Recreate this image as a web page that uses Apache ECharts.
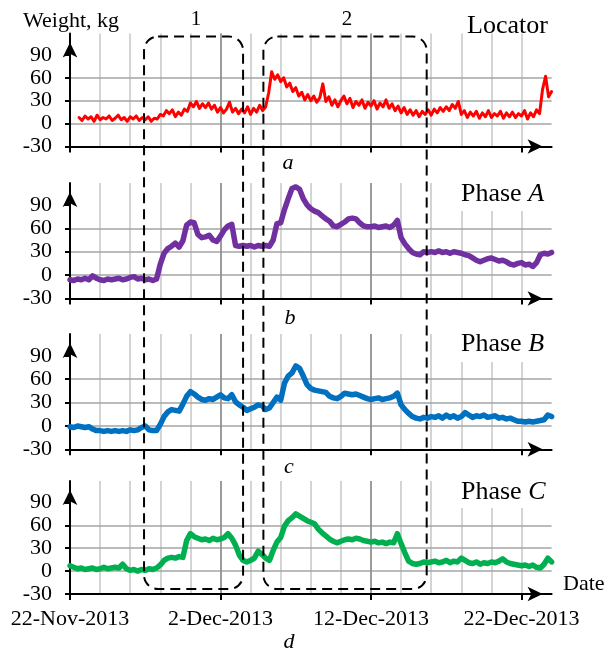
<!DOCTYPE html>
<html>
<head>
<meta charset="utf-8">
<script src="https://cdn.jsdelivr.net/npm/echarts@6/dist/echarts.min.js"></script>
<style>
html, body { margin: 0; padding: 0; background: #fff; }
#chart { width: 606px; height: 652px; }
</style>
</head>
<body>
<div id="chart"></div>
<script>
// days counted from 22-Nov-2013
var dayTicks = [0, 10, 20, 30];
var dateLabels = ['22-Nov-2013', '2-Dec-2013', '12-Dec-2013', '22-Dec-2013'];
var weightTicks = [-30, 0, 30, 60, 90];

// locator, one reading every 0.2 day from day 0.6
var locatorStart = 0.6, locatorStep = 0.2;
var locator = [
  8, 4, 10, 6, 9, 3, 11, 5, 8, 6,
  10, 4, 7, 11, 5, 8, 3, 9, 6, 10,
  4, 8, 5, 9, 3, 7, 6, 12, 10, 17,
  13, 18, 9, 15, 11, 19, 16, 27, 22, 29,
  20, 26, 21, 27, 19, 24, 15, 21, 14, 19,
  28, 15, 20, 13, 19, 14, 22, 12, 20, 15,
  24, 17, 22, 40, 68, 58, 64, 55, 60, 48,
  53, 42, 47, 36, 41, 31, 38, 30, 36, 28,
  34, 52, 29, 35, 24, 31, 22, 30, 36, 26,
  33, 21, 29, 24, 31, 20, 28, 23, 30, 19,
  27, 22, 31, 20, 26, 17, 23, 14, 21, 12,
  18, 11, 17, 9, 16, 12, 18, 11, 19, 14,
  21, 16, 22, 17, 25, 20, 29, 12, 17, 8,
  15, 10, 16, 7, 14, 9, 17, 8, 13, 10,
  16, 7, 14, 9, 15, 8, 13, 10, 17, 6,
  14, 9, 18, 13, 45, 62, 35, 42
];

// phases, one reading every 0.25 day from day 0
var phaseStart = 0, phaseStep = 0.25;
var phaseA = [
  -6, -7, -5, -6, -4, -6, -1, -4,
  -6, -7, -5, -6, -5, -4, -6, -5,
  -3, -2, -5, -4, -6, -5, -7, -5,
  14, 28, 34, 37, 41, 36, 44, 64,
  68, 67, 52, 48, 49, 51, 45, 43,
  50, 58, 63, 65, 38, 37, 38, 37,
  38, 36, 38, 37, 38, 37, 45, 66,
  67, 84, 98, 111, 113, 110, 98, 90,
  85, 82, 80, 76, 72, 69, 63, 62,
  65, 68, 72, 73, 72, 67, 63, 62,
  62, 63, 61, 62, 63, 61, 64, 70,
  48, 40, 34, 29, 27, 26, 30, 29,
  30, 29, 31, 29, 30, 28, 30, 29,
  28, 26, 25, 22, 19, 17, 19, 21,
  22, 20, 18, 19, 17, 14, 13, 15,
  16, 13, 14, 11, 16, 26, 28, 27,
  29
];
var phaseB = [
  -1, -2, 0, -1, -2, -1, -4, -6,
  -6, -7, -6, -7, -6, -7, -6, -7,
  -5, -6, -5, -2, 0, -5, -6, -6,
  2, 12, 18, 21, 20, 19, 28, 38,
  44, 41, 37, 34, 33, 35, 34, 37,
  40, 36, 35, 40, 31, 27, 24, 20,
  22, 24, 27, 26, 21, 23, 30, 37,
  33, 55, 64, 68, 77, 74, 64, 53,
  48, 46, 45, 44, 43, 38, 36, 35,
  38, 42, 41, 40, 41, 39, 37, 35,
  34, 35, 36, 34, 35, 36, 38, 42,
  27, 21, 16, 12, 10, 9, 11, 10,
  12, 11, 13, 10, 14, 11, 13, 10,
  12, 17, 14, 11, 13, 12, 14, 11,
  12, 13, 10, 11, 9, 10, 8, 6,
  6, 5, 6, 5, 6, 7, 8, 14,
  12
];
var phaseC = [
  7, 5, 3, 4, 2, 3, 4, 2,
  3, 5, 3, 4, 5, 4, 9, 3,
  1, 2, 0, 2, 1, 3, 2, 4,
  8, 14, 17, 18, 17, 19, 18, 40,
  49, 45, 43, 41, 42, 40, 43, 41,
  42, 44, 49, 43, 34, 21, 14, 12,
  14, 17, 26, 22, 17, 14, 27, 38,
  44, 59, 66, 70, 75, 72, 69, 66,
  64, 62, 55, 50, 46, 42, 39, 37,
  39, 41, 42, 41, 43, 42, 40, 39,
  38, 39, 37, 38, 36, 38, 37, 49,
  36, 24, 13, 10, 9, 10, 12, 11,
  12, 13, 11, 12, 14, 11, 13, 12,
  17, 14, 11, 10, 12, 9, 11, 10,
  12, 11, 13, 16, 12, 10, 9, 8,
  7, 8, 6, 8, 5, 4, 9, 17,
  12
];

// dashed frames 1 and 2: [from day, to day]
var frames = [[4.92, 11.5], [12.85, 23.7]];
var frameTop = 114, frameBottom = -23.5;

function toPairs(values, start, step) {
  return values.map(function (v, i) { return [start + i * step, v]; });
}

var font = "'Liberation Serif', 'Times New Roman', serif";

var panels = [
  { top: 33.5, height: 113, data: toPairs(locator, locatorStart, locatorStep), color: '#ff0000', width: 3 },
  { top: 183, height: 115.5, data: toPairs(phaseA, phaseStart, phaseStep), color: '#7030a0', width: 5.5 },
  { top: 334, height: 115.3, data: toPairs(phaseB, phaseStart, phaseStep), color: '#0070c0', width: 5.5 },
  { top: 481, height: 113, data: toPairs(phaseC, phaseStart, phaseStep), color: '#00b050', width: 5.5 }
];

var grids = [], xAxes = [], yAxes = [], series = [];
panels.forEach(function (p, i) {
  grids.push({ left: 70, width: 481.6, top: p.top, height: p.height });
  // main date axis
  xAxes.push({
    gridIndex: i, type: 'value', min: 0, max: 32, interval: 10, z: 3,
    axisLine: { onZero: false, symbol: ['none', 'arrow'], symbolSize: [11, 15], symbolOffset: [0, -9],
      lineStyle: { color: '#000', width: 2 } },
    axisTick: { show: true, customValues: dayTicks, length: 6, lineStyle: { color: '#000', width: 2 } },
    axisLabel: {
      show: i === 3, customValues: dayTicks, fontFamily: font, fontSize: 22, color: '#000', margin: 14,
      formatter: function (v) { var k = dayTicks.indexOf(v); return k < 0 ? '' : dateLabels[k]; }
    },
    splitLine: { show: true, showMinLine: false, showMaxLine: false, lineStyle: { color: '#8a8a8a', width: 1.5 } }
  });
  // light grid every two days
  xAxes.push({
    gridIndex: i, type: 'value', min: 0, max: 32, interval: 2, z: 1,
    axisLine: { show: false }, axisTick: { show: false }, axisLabel: { show: false },
    splitLine: { show: true, showMinLine: false, showMaxLine: false, lineStyle: { color: '#c6c6c6', width: 1.5 } }
  });
  yAxes.push({
    gridIndex: i, type: 'value', min: -30, max: 118, interval: 30, z: 3,
    axisLine: { show: true, onZero: false, symbol: ['none', 'arrow'], symbolSize: [11, 15], symbolOffset: [0, -9],
      lineStyle: { color: '#000', width: 2 } },
    axisTick: { show: true, customValues: weightTicks, length: 5, lineStyle: { color: '#000', width: 2 } },
    axisLabel: { customValues: weightTicks, fontFamily: font, fontSize: 22, color: '#000', margin: 18 },
    splitLine: { show: true, showMinLine: false, showMaxLine: false, lineStyle: { color: '#a4a4a4', width: 1.5 } }
  });
  series.push({
    type: 'line', xAxisIndex: i * 2, yAxisIndex: i, data: p.data, symbol: 'none', z: 5,
    lineStyle: { color: p.color, width: p.width, join: 'round', cap: 'round' }
  });
});

var chart = echarts.init(document.getElementById('chart'));
chart.setOption({
  animation: false,
  backgroundColor: '#fff',
  grid: grids,
  xAxis: xAxes,
  yAxis: yAxes,
  series: series
});

function label(text, x, y, size, opts) {
  opts = opts || {};
  return {
    type: 'text', x: x, y: y, z: 20,
    style: {
      text: text, fill: '#000', fontFamily: font, fontSize: size, fontStyle: opts.italic ? 'italic' : 'normal',
      align: opts.align || 'left', verticalAlign: 'middle',
      textAlign: opts.align || 'left', textVerticalAlign: 'middle',
      rich: { i: { fontStyle: 'italic', fontFamily: font, fontSize: size, fill: '#000' } }
    }
  };
}

var graphics = [
  label('Weight, kg', 23, 21, 22),
  label('1', 196, 19, 21, { align: 'center' }),
  label('2', 347, 19, 21, { align: 'center' }),
  label('Locator', 467, 26, 26),
  label('a', 288, 163, 22, { italic: true, align: 'center' }),
  label('b', 290, 318, 22, { italic: true, align: 'center' }),
  label('c', 289, 467, 22, { italic: true, align: 'center' }),
  label('d', 289, 642, 22, { italic: true, align: 'center' }),
  label('Date', 563, 584, 22)
];

// white boxes behind phase names
[[181, 211, 'Phase {i|A}', 194], [332, 362, 'Phase {i|B}', 344], [479, 508, 'Phase {i|C}', 492]].forEach(function (b) {
  graphics.push({ type: 'rect', z: 15, shape: { x: 451, y: b[0], width: 120, height: b[1] - b[0] },
    style: { fill: '#fff' } });
  graphics.push(label(b[2], 461, b[3], 26));
});

frames.forEach(function (f) {
  var a = chart.convertToPixel({ gridIndex: 0 }, [f[0], frameTop]);
  var b = chart.convertToPixel({ gridIndex: 3 }, [f[1], frameBottom]);
  graphics.push({
    type: 'rect', z: 25,
    shape: { x: a[0], y: a[1], width: b[0] - a[0], height: b[1] - a[1], r: 14 },
    style: { fill: 'none', stroke: '#000', lineWidth: 2, lineDash: [10, 6] }
  });
});

chart.setOption({ graphic: graphics });
</script>
</body>
</html>
